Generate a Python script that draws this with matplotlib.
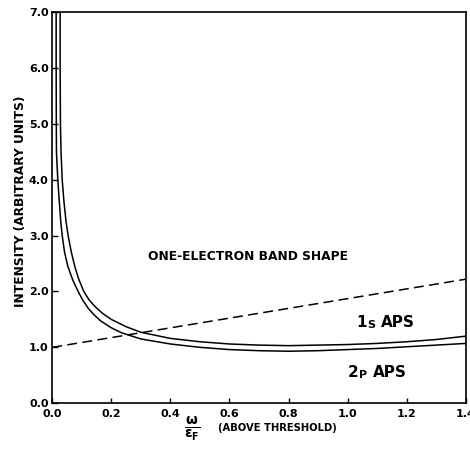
import matplotlib
matplotlib.use("Agg")
import matplotlib.pyplot as plt

plt.rcParams['font.family'] = ['DejaVu Sans']
plt.rcParams['font.weight'] = 'bold'
plt.rcParams['mathtext.fontset'] = 'custom'
plt.rcParams['mathtext.rm'] = 'DejaVu Sans:bold'
plt.rcParams['mathtext.it'] = 'DejaVu Sans:bold'
plt.rcParams['mathtext.bf'] = 'DejaVu Sans:bold'

# 1s APS (upper curve)
x_1s = [0.027, 0.027, 0.028, 0.030, 0.034, 0.040, 0.047, 0.054, 0.065, 0.078, 0.09, 0.107,
        0.125, 0.145, 0.17, 0.20, 0.25, 0.30, 0.40, 0.50, 0.60, 0.70, 0.80, 0.90, 1.00,
        1.10, 1.20, 1.30, 1.40]
y_1s = [7.0, 6.0, 5.0, 4.5, 4.0, 3.6, 3.25, 3.0, 2.7, 2.42, 2.22, 2.0,
        1.85, 1.73, 1.61, 1.50, 1.37, 1.27, 1.16, 1.10, 1.06, 1.04, 1.03, 1.04, 1.05,
        1.07, 1.10, 1.14, 1.20]

# 2p APS (lower curve)
x_2p = [0.0135, 0.0135, 0.014, 0.0145, 0.019, 0.025, 0.029, 0.034, 0.042, 0.053, 0.07,
        0.088, 0.104, 0.122, 0.142, 0.165, 0.20, 0.235, 0.30, 0.40, 0.50, 0.60, 0.70, 0.80,
        0.90, 1.00, 1.10, 1.20, 1.30, 1.40]
y_2p = [7.0, 6.0, 5.0, 4.5, 4.0, 3.55, 3.25, 3.0, 2.7, 2.45, 2.2,
        2.0, 1.84, 1.70, 1.58, 1.47, 1.35, 1.26, 1.15, 1.06, 1.00, 0.96, 0.94, 0.93,
        0.94, 0.96, 0.98, 1.01, 1.04, 1.07]

# One-electron band shape (dashed)
x_band = [0.0, 1.4]
y_band = [1.0, 2.22]

x_ticks = [0.0, 0.2, 0.4, 0.6, 0.8, 1.0, 1.2, 1.4]
x_ticklabels = ["0.0", "0.2", "0.4", "0.6", "0.8", "1.0", "1.2", "1.4"]
y_ticks = [0.0, 1.0, 2.0, 3.0, 4.0, 5.0, 6.0, 7.0]
y_ticklabels = ["0.0", "1.0", "2.0", "3.0", "4.0", "5.0", "6.0", "7.0"]

fig = plt.figure(figsize=(4.7, 4.5), dpi=100)
ax = fig.add_axes([0.111, 0.104, 0.880, 0.869])

ax.plot(x_1s, y_1s, color='black', lw=1.1, solid_joinstyle='round')
ax.plot(x_2p, y_2p, color='black', lw=1.1, solid_joinstyle='round')
ax.plot(x_band, y_band, color='black', lw=1.1, linestyle=(0, (6.5, 3.5)))

ax.set_xlim(0, 1.4)
ax.set_ylim(0, 7.0)
ax.set_xticks(x_ticks)
ax.set_xticklabels(x_ticklabels)
ax.set_yticks(y_ticks)
ax.set_yticklabels(y_ticklabels)
ax.tick_params(axis='x', direction='in', length=3.6, width=1.0, pad=4, labelsize=8)
ax.tick_params(axis='y', direction='in', length=4.5, width=1.0, pad=2.5, labelsize=8)
for lab in ax.get_xticklabels() + ax.get_yticklabels():
    lab.set_fontweight('bold')
for s in ax.spines.values():
    s.set_linewidth(1.2)

ax.text(0.324, 2.63, "ONE-ELECTRON BAND SHAPE", fontsize=8.8, fontweight='bold',
        ha='left', va='center')

t1 = ax.text(1.03, 1.36, "1", fontsize=11, fontweight='bold', ha='left', va='baseline')
t1s = ax.annotate("S", xy=(1, 0), xycoords=t1, xytext=(0.5, 0), textcoords='offset points',
                  fontsize=8, fontweight='bold', ha='left', va='bottom')
ax.annotate("APS", xy=(1, 0), xycoords=t1s, xytext=(4, 0), textcoords='offset points',
            fontsize=11, fontweight='bold', ha='left', va='bottom')

t2 = ax.text(1.0, 0.47, "2", fontsize=11, fontweight='bold', ha='left', va='baseline')
t2p = ax.annotate("P", xy=(1, 0), xycoords=t2, xytext=(0.5, 0), textcoords='offset points',
                  fontsize=8, fontweight='bold', ha='left', va='bottom')
ax.annotate("APS", xy=(1, 0), xycoords=t2p, xytext=(4, 0), textcoords='offset points',
            fontsize=11, fontweight='bold', ha='left', va='bottom')

fig.text(0.043, 0.553, "INTENSITY (ARBITRARY UNITS)", rotation=90, fontsize=8.8,
         fontweight='bold', ha='center', va='center')
fig.text(0.409, 0.047, r"$\frac{\omega}{\epsilon_{F}}$", fontsize=14, ha='center', va='center')
fig.text(0.464, 0.049, "(ABOVE THRESHOLD)", fontsize=7.2, fontweight='bold',
         ha='left', va='center')

fig.savefig("out.png", dpi=100)
